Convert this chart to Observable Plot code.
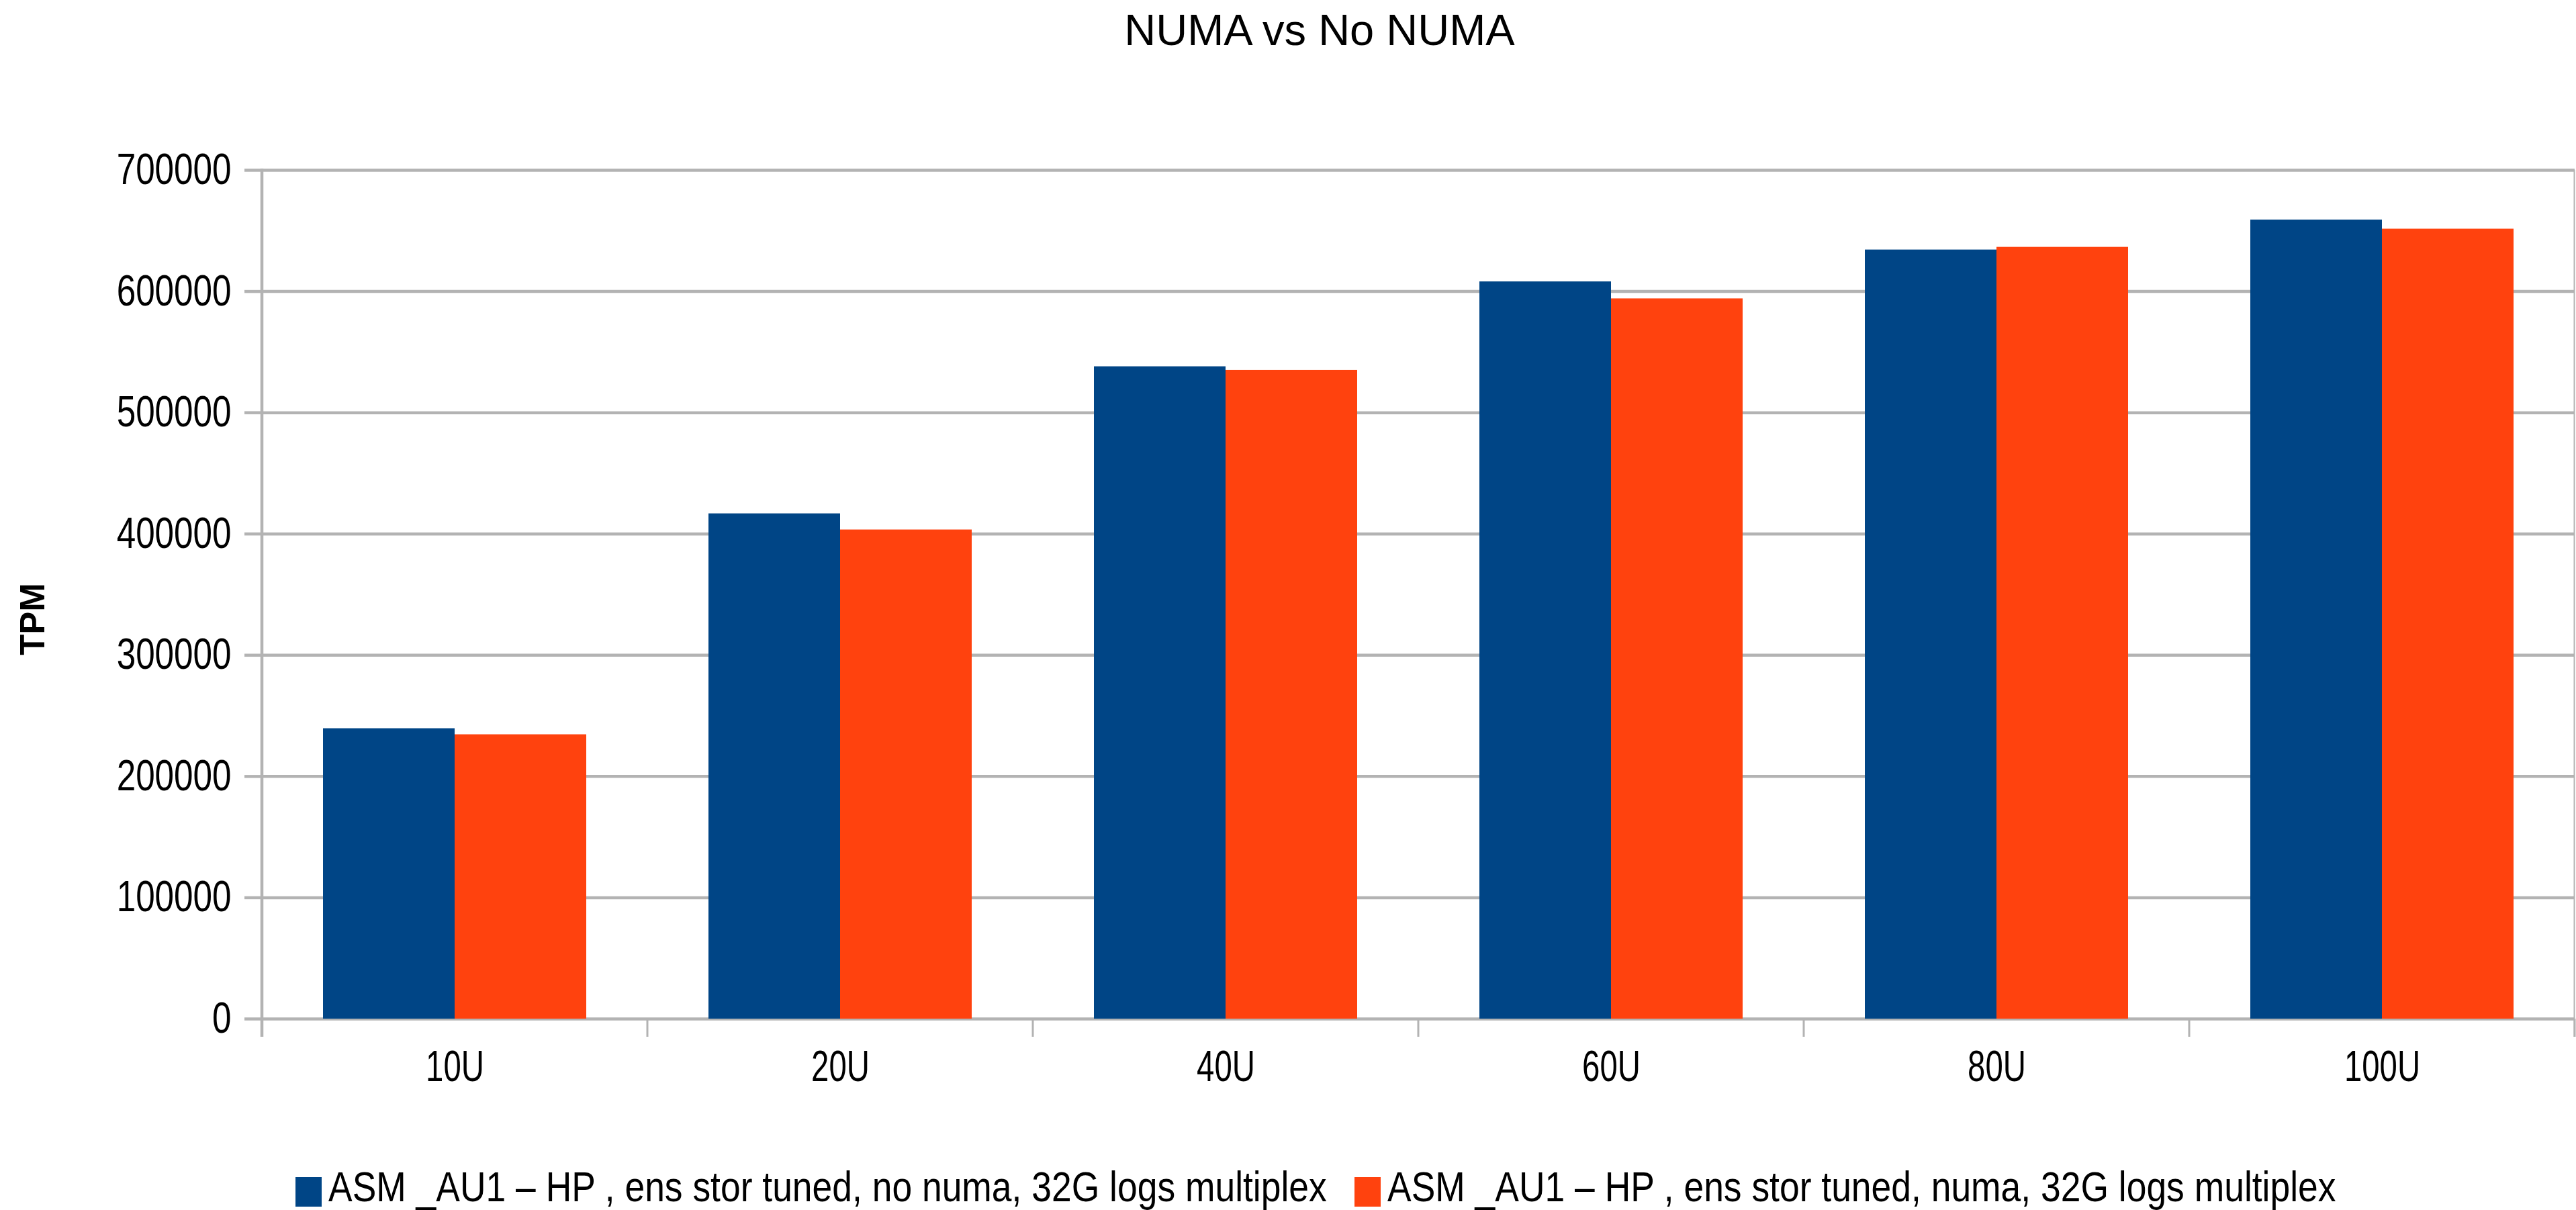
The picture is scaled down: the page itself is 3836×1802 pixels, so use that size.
<!DOCTYPE html>
<html>
<head>
<meta charset="utf-8">
<script src="https://cdn.jsdelivr.net/npm/d3@7"></script>
<script src="https://cdn.jsdelivr.net/npm/@observablehq/plot@0.6"></script>
<style>
  html, body { margin: 0; padding: 0; background: #ffffff; }
  #page {
    position: relative; width: 3836px; height: 1802px; overflow: hidden;
    font-family: "Liberation Sans", Arial, sans-serif; color: #000;
  }
  #title {
    position: absolute; left: 0; top: 12px; width: 3836px; box-sizing: border-box;
    padding-left: 94px; text-align: center;
    font-size: 65px; line-height: 65px;
  }
  #chart { position: absolute; left: 0; top: 100px; }
  #ylabel {
    position: absolute; left: 48px; top: 922px;
    transform: translate(-50%, -50%) rotate(-90deg);
    font-weight: bold; font-size: 51px; line-height: 1; white-space: nowrap;
  }
  #legend {
    position: absolute; left: 440px; top: 1753px; display: flex; align-items: flex-start;
    font-size: 63px; line-height: 44px; white-space: nowrap;
  }
  .item { display: flex; align-items: flex-start; }
  .swatch { width: 39px; height: 44px; margin-right: 10px; flex: none; }
  .label {
    display: inline-block; position: relative; top: -8px;
    transform-origin: 0 50%; transform: scaleX(0.848);
  }
</style>
</head>
<body>
<div id="page">
  <div id="title"></div>
  <div id="chart"></div>
  <div id="ylabel"></div>
  <div id="legend"></div>
</div>
<script>
// Chart text
const title = "NUMA vs No NUMA";
const yLabel = "TPM";

// Load levels on the x axis
const categories = ["10U", "20U", "40U", "60U", "80U", "100U"];

// Series names and colours
const seriesNames = [
  "ASM _AU1 – HP , ens stor tuned, no numa, 32G logs multiplex",
  "ASM _AU1 – HP , ens stor tuned, numa, 32G logs multiplex"
];
const seriesColors = ["#004586", "#ff420e"];

// Transactions per minute for each load level
const noNumaTPM = [239500, 416700, 538000, 608000, 634300, 659000];
const numaTPM   = [234500, 403400, 535000, 594000, 636500, 651500];

// Value axis ticks
const yTicks = [0, 100000, 200000, 300000, 400000, 500000, 600000, 700000];

const GRID = "#b3b3b3";

const rows = categories.flatMap((category, i) => [
  {category, series: seriesNames[0], tpm: noNumaTPM[i]},
  {category, series: seriesNames[1], tpm: numaTPM[i]}
]);

// Category separator ticks, the value-axis line and the right wall
function categoryEdges(index, scales, values, dimensions) {
  const {y, fx} = scales;
  const y0 = y(0);
  const yTop = y(yTicks[yTicks.length - 1]);
  const edges = categories.map((c) => fx(c));
  edges.push(fx(categories[categories.length - 1]) + fx.bandwidth());
  const g = d3.create("svg:g").attr("stroke", GRID).attr("fill", "none");
  g.selectAll("line.tick")
    .data(edges)
    .join("line")
    .attr("class", "tick")
    .attr("x1", (d) => d).attr("x2", (d) => d)
    .attr("y1", y0).attr("y2", y0 + 27)
    .attr("stroke-width", 3);
  g.append("line")
    .attr("x1", edges[0]).attr("x2", edges[0])
    .attr("y1", yTop - 2).attr("y2", y0 + 27)
    .attr("stroke-width", 4.5);
  const xr = edges[edges.length - 1] - 0.5;
  g.append("line")
    .attr("x1", xr).attr("x2", xr)
    .attr("y1", yTop).attr("y2", y0 + 27)
    .attr("stroke-width", 2);
  return g.node();
}

const chart = Plot.plot({
  width: 3836,
  height: 1620,
  marginTop: 153,
  marginBottom: 203,
  marginLeft: 389,
  marginRight: 1,
  style: {fontFamily: '"Liberation Sans", Arial, sans-serif', background: "white", color: "black"},
  fx: {domain: categories, padding: 0, label: null},
  x: {domain: seriesNames, paddingInner: 0, paddingOuter: 0.464, axis: null},
  y: {domain: [0, 700000], label: null},
  color: {domain: seriesNames, range: seriesColors},
  marks: [
    Plot.gridY(yTicks, {stroke: GRID, strokeOpacity: 1, strokeWidth: 4.5}),
    Plot.barY(rows, {fx: "category", x: "series", y: "tpm", fill: "series"}),
    Plot.axisY(yTicks, {
      tickSize: 26, tickPadding: 20, stroke: GRID, strokeWidth: 4.5,
      fill: "black", fontSize: 64, tickFormat: (d) => String(d), label: null
    }),
    Plot.axisFx({anchor: "bottom", tickSize: 0, tickPadding: 47, fontSize: 64, fill: "black", label: null}),
    Plot.frame({facet: "super", render: categoryEdges})
  ]
});

// Tall, narrow lettering on the axes: squeeze each label horizontally about its anchor
function squeeze(selection, k) {
  selection.each(function () {
    const t = this.getAttribute("transform") || "";
    const x = this.getAttribute("x");
    if (x !== null && x !== "") this.setAttribute("x", (+x) / k);
    this.setAttribute("transform", `${t} scale(${k},1)`.trim());
  });
}
squeeze(d3.select(chart).selectAll('g[aria-label="y-axis tick label"] text'), 0.8);
squeeze(d3.select(chart).selectAll('g[aria-label="fx-axis tick label"] text'), 0.74);

document.getElementById("chart").append(chart);
document.getElementById("title").textContent = title;
document.getElementById("ylabel").textContent = yLabel;

// Legend below the plot
const legend = d3.select("#legend");
const items = legend.selectAll(".item").data(seriesNames).join("div").attr("class", "item");
items.append("div").attr("class", "swatch").style("background", (d, i) => seriesColors[i]);
items.append("div").attr("class", "label").text((d) => d);
// keep a fixed gap after each squeezed label
items.each(function () {
  const label = this.querySelector(".label");
  const shrink = label.offsetWidth - label.getBoundingClientRect().width;
  this.style.marginRight = (41 - shrink) + "px";
});
</script>
</body>
</html>
